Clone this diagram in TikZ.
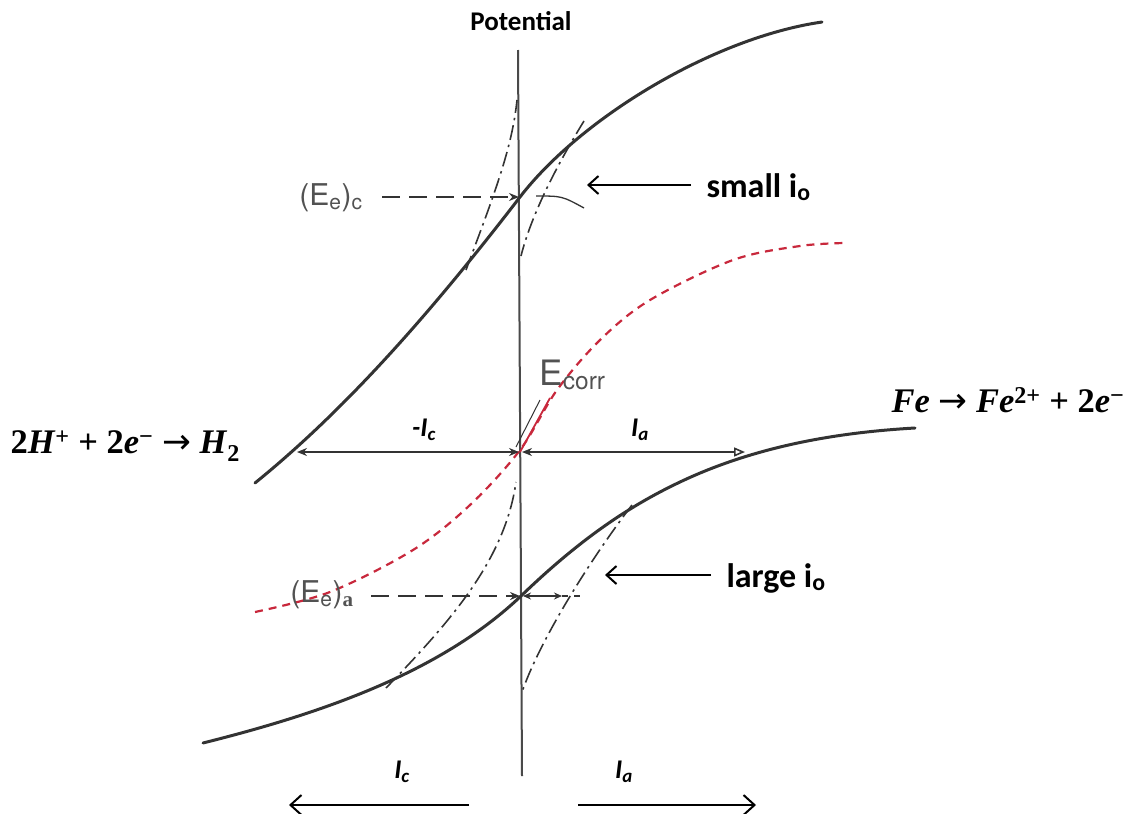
\documentclass[tikz,border=0pt]{standalone}
\usepackage[no-math]{fontspec}
\setmainfont{Carlito}
\newfontfamily\helv{TeX Gyre Heros}
\newfontfamily\eqf{Liberation Serif}
\newfontfamily\arrf{DejaVu Sans}
\usetikzlibrary{arrows.meta}
\definecolor{ink}{HTML}{333333}
\definecolor{axisgray}{HTML}{4A4A4A}
\definecolor{corrred}{HTML}{C8283C}
\newcommand{\ra}{{\arrf\mdseries →}}
\newcommand{\bsup}[1]{\textsuperscript{#1}}
\newcommand{\bsub}[1]{\textsubscript{#1}}
\tikzset{
  curve/.style={ink, line width=3pt, line cap=round},
  axisline/.style={axisgray, line width=2pt},
  tafel/.style={ink, line width=1.6pt, dash pattern=on 15pt off 5pt on 2.5pt off 5pt},
  eqdash/.style={ink, line width=1.8pt, dash pattern=on 18pt off 9pt},
  redcurve/.style={corrred, line width=2.2pt, dash pattern=on 8pt off 6pt},
  dimtip/.tip={Stealth[length=10pt,width=8pt]},
  dimline/.style={ink, line width=1.6pt},
  pointer/.style={black, line width=2pt, -{Straight Barb[length=10pt,width=18pt]}},
  lbl/.style={font=\fontsize{27}{29}\selectfont\bfseries},
  bigl/.style={font=\fontsize{34}{36}\selectfont\bfseries},
  curl/.style={font=\fontsize{27}{29}\selectfont\bfseries\itshape},
  elbl/.style={font=\helv\fontsize{30}{32}\selectfont, text=ink!85},
  eqn/.style={font=\eqf\fontsize{34.5}{36}\selectfont\bfseries},
}
\begin{document}
\begin{tikzpicture}[x=1pt,y=-1pt]
\useasboundingbox (0,0) rectangle (1133,814);

% key points
\coordinate (axtop) at (518,50);
\coordinate (axbot) at (522,776);
\coordinate (Xc) at (520,197);
\coordinate (Xa) at (521,596);
\coordinate (Xcorr) at (520,452);
\coordinate (Lend) at (297,452);
\coordinate (Rend) at (745,452);

% axis
\draw[axisline] (axtop) -- (axbot);
\node[lbl] (pot) at (521,21) {Potential};

% upper (cathodic) curve
\draw[curve] (255,483) .. controls (345,410) and (430,314) .. (Xc)
                       .. controls (580,119) and (712,38) .. (822,22);
% lower (anodic) curve
\draw[curve] (203,743) .. controls (323,713) and (441,672) .. (Xa)
                       .. controls (576,543) and (625,508) .. (680,482)
                       .. controls (760,444) and (845,432) .. (915,428);

% Tafel (dash-dot) lines, upper
\draw[tafel] (466,270) .. controls (492,200) and (512,150) .. (517,100);
\draw[tafel] (584,121) .. controls (560,160) and (532,212) .. (521,256);
% Tafel lines, lower
\draw[tafel] (386,688) .. controls (450,622) and (505,560) .. (516,482);
\draw[tafel] (632,505) .. controls (590,560) and (540,640) .. (522,692);

% small arc at upper crossing
\draw[ink, line width=1.3pt] (536,196) .. controls (562,196) .. (584,208);

% red corrosion curve
\draw[redcurve] plot[smooth, tension=0.55] coordinates {(255,612) (330,592) (413,550) (470,505) (520,450) (557,390) (600,340) (650,300) (733,260) (800,246) (845,243)};
\draw[ink, line width=1pt] (516,447) -- (540,400);
\draw[corrred, line width=1.8pt] (Xcorr) -- (550,398);

% E labels
\node[elbl] (eec) at (331,198) {(E\textsubscript{e})\textsubscript{c}};
\draw[eqdash, -{Stealth[length=10pt,width=8pt]}] ([xshift=16pt]eec.east |- Xc) -- ([xshift=-1pt]Xc);
\node[elbl] (eea) at (322,595) {(E\textsubscript{e})\textsubscript{\eqf\bfseries a}};
\draw[eqdash, -{Stealth[length=10pt,width=8pt]}] ([xshift=14pt]eea.east |- Xa) -- ([xshift=-1pt]Xa);
\coordinate (Xa2) at (562,596);
\coordinate (Xa3) at (580,596);
\draw[dimline, {Stealth[length=8pt,width=7pt]}-{Stealth[length=8pt,width=7pt]}] ([xshift=2pt]Xa) -- (Xa2);
\draw[eqdash, dash pattern=on 6pt off 6pt] (Xa2) -- (Xa3);

\node[font=\helv\fontsize{35}{37}\selectfont, text=ink!85, anchor=base west] (ecorr) at (536,385) {E\textsubscript{corr}};

% current dimension lines
\draw[dimline, dimtip-dimtip] (Lend) -- ([xshift=-1pt]Xcorr);
\draw[dimline, dimtip-{Triangle[open,length=11pt,width=9pt]}] ([xshift=2pt]Xcorr) -- (Rend);
\node[curl] (mic) at (424,430) {-I\textsubscript{c}};
\node[curl] (ia1) at (640,430) {I\textsubscript{a}};

% pointers
\coordinate (smalltip) at (587,185);
\node[bigl, anchor=base west] (small) at (703,197) {small i\textsubscript{o}};
\draw[pointer] ([xshift=-12pt]small.west |- smalltip) -- (smalltip);
\coordinate (largetip) at (605,575);
\node[bigl, anchor=base west] (large) at (723,587) {large i\textsubscript{o}};
\draw[pointer] ([xshift=-12pt]large.west |- largetip) -- (largetip);

% reactions
\node[eqn, anchor=west] (cath) at (7,446) {2\textit{H}\bsup{+} + 2\textit{e}\bsup{−} \ra{} \textit{H}\bsub{2}};
\node[eqn, anchor=east] (anod) at (1128,400) {\textit{Fe} \ra{} \textit{Fe}\bsup{2+} + 2\textit{e}\bsup{−}};

% bottom current arrows
\node[curl] (ic) at (402,772) {I\textsubscript{c}};
\node[curl] (ia2) at (624,772) {I\textsubscript{a}};
\coordinate (bl1) at (469,805);
\coordinate (bl2) at (289,805);
\coordinate (br1) at (578,805);
\coordinate (br2) at (756,805);
\draw[black, line width=2pt, -{Straight Barb[length=11pt,width=20pt]}] (bl1) -- (bl2);
\draw[black, line width=2pt, -{Straight Barb[length=11pt,width=20pt]}] (br1) -- (br2);
\end{tikzpicture}
\end{document}
